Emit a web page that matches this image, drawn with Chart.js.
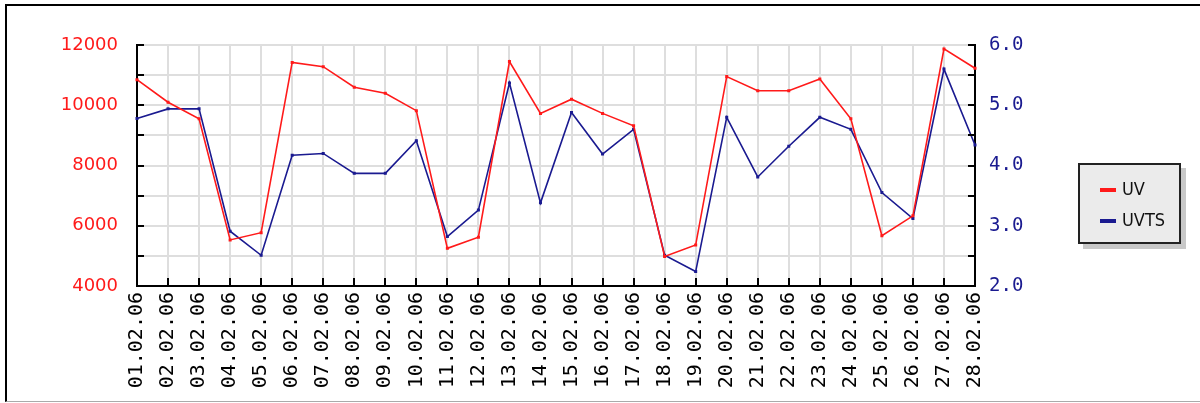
<!DOCTYPE html>
<html>
<head>
<meta charset="utf-8">
<script src="https://cdn.jsdelivr.net/npm/chart.js@4"></script>
<style>
  body { margin: 0; background: #fff; }
  #wrap { position: relative; width: 1200px; height: 403px; overflow: hidden; }
  #frame { position: absolute; left: 5px; top: 4px; width: 1300px; height: 395px;
           border-top: 2px solid #000; border-left: 2px solid #000; border-bottom: 1px solid #aaa; }
  #chart { position: absolute; left: 0; top: 0; }
  #legend { position: absolute; left: 1078px; top: 163px; width: 99px; height: 77px;
            background: #ebebeb; border: 2px solid #222; box-shadow: 5px 5px 0 #c8c8c8;
            font: 18px "DejaVu Sans Condensed", "DejaVu Sans", sans-serif; color: #111; }
  .item { position: absolute; left: 20px; height: 20px; line-height: 20px; }
  .item span.sw { display: inline-block; width: 16px; height: 4px; vertical-align: middle; margin-right: 6px; }
</style>
</head>
<body>
<div id="wrap">
  <div id="frame"></div>
  <canvas id="chart" width="1200" height="403"></canvas>
  <div id="legend"></div>
</div>
<script>
// days of February 2006
const labels = ['01.02.06','02.02.06','03.02.06','04.02.06','05.02.06','06.02.06','07.02.06',
  '08.02.06','09.02.06','10.02.06','11.02.06','12.02.06','13.02.06','14.02.06',
  '15.02.06','16.02.06','17.02.06','18.02.06','19.02.06','20.02.06','21.02.06',
  '22.02.06','23.02.06','24.02.06','25.02.06','26.02.06','27.02.06','28.02.06'];

// UV (left axis)
const uv = [10850, 10100, 9550, 5530, 5770, 11420, 11280, 10600, 10400, 9820,
  5250, 5620, 11450, 9730, 10200, 9730, 9320, 4980, 5360, 10950,
  10480, 10480, 10870, 9550, 5670, 6330, 11870, 11230];

// UVTS (right axis)
const uvts = [4.78, 4.94, 4.94, 2.91, 2.51, 4.17, 4.20, 3.87, 3.87, 4.41,
  2.82, 3.26, 5.37, 3.38, 4.88, 4.19, 4.60, 2.51, 2.24, 4.80,
  3.81, 4.32, 4.80, 4.60, 3.55, 3.12, 5.60, 4.34];

const red = '#ff1a1a';
const navy = '#1a1a90';

// short tick marks pointing into the plot
const innerTicks = {
  id: 'innerTicks',
  afterDraw(chart) {
    const { ctx, chartArea: a, scales } = chart;
    ctx.save();
    ctx.strokeStyle = '#000';
    ctx.lineWidth = 2;
    ctx.beginPath();
    scales.y.ticks.forEach((t, i) => {
      const py = Math.round(scales.y.getPixelForTick(i));
      ctx.moveTo(a.left, py); ctx.lineTo(a.left + 7, py);
    });
    scales.y1.ticks.forEach((t, i) => {
      const py = Math.round(scales.y1.getPixelForTick(i));
      ctx.moveTo(a.right, py); ctx.lineTo(a.right - 7, py);
    });
    scales.x.ticks.forEach((t, i) => {
      const px = Math.round(scales.x.getPixelForTick(i));
      ctx.moveTo(px, a.bottom); ctx.lineTo(px, a.bottom - 8);
    });
    ctx.stroke();
    ctx.restore();
  }
};

const chart = new Chart(document.getElementById('chart').getContext('2d'), {
  type: 'line',
  data: {
    labels: labels,
    datasets: [{
      label: 'UV',
      data: uv,
      yAxisID: 'y',
      borderColor: red,
      backgroundColor: red,
      borderWidth: 1.6,
      pointRadius: 1,
      pointStyle: 'rect',
      tension: 0
    }, {
      label: 'UVTS',
      data: uvts,
      yAxisID: 'y1',
      borderColor: navy,
      backgroundColor: navy,
      borderWidth: 1.6,
      pointRadius: 1,
      pointStyle: 'rect',
      tension: 0
    }]
  },
  options: {
    responsive: false,
    animation: false,
    layout: { padding: { top: 45, left: 0, right: 0, bottom: 0 } },
    plugins: { legend: { display: false }, tooltip: { enabled: false } },
    scales: {
      x: {
        offset: false,
        grid: { color: '#dedede', lineWidth: 2, drawTicks: false },
        border: { color: '#000', width: 2 },
        ticks: {
          autoSkip: false, minRotation: 90, maxRotation: 90, padding: 6,
          color: '#000', font: { family: 'DejaVu Sans Mono', size: 20 }
        },
        afterFit(s) { s.height = 117; }
      },
      y: {
        position: 'left',
        min: 4000, max: 12000,
        grid: { color: '#dedede', lineWidth: 2, drawTicks: false },
        border: { color: '#000', width: 2 },
        ticks: {
          stepSize: 1000, padding: 19, color: red,
          font: { family: 'DejaVu Sans', size: 18 },
          callback: v => (v % 2000 === 0 ? String(v) : '')
        },
        afterFit(s) { s.width = 137; }
      },
      y1: {
        position: 'right',
        min: 2, max: 6,
        grid: { drawOnChartArea: false, drawTicks: false },
        border: { color: '#000', width: 2 },
        ticks: {
          stepSize: 0.5, padding: 14, color: navy,
          font: { family: 'DejaVu Sans Mono', size: 19 },
          callback: v => (Number.isInteger(v) ? v.toFixed(1) : '')
        },
        afterFit(s) { s.width = 225; }
      }
    }
  },
  plugins: [innerTicks]
});

// legend box built from the datasets
const legend = document.getElementById('legend');
chart.data.datasets.forEach((ds, i) => {
  const d = document.createElement('div');
  d.className = 'item';
  d.style.top = (14 + i * 31) + 'px';
  d.innerHTML = '<span class="sw" style="background:' + ds.borderColor + '"></span>' + ds.label;
  legend.appendChild(d);
});
</script>
</body>
</html>
